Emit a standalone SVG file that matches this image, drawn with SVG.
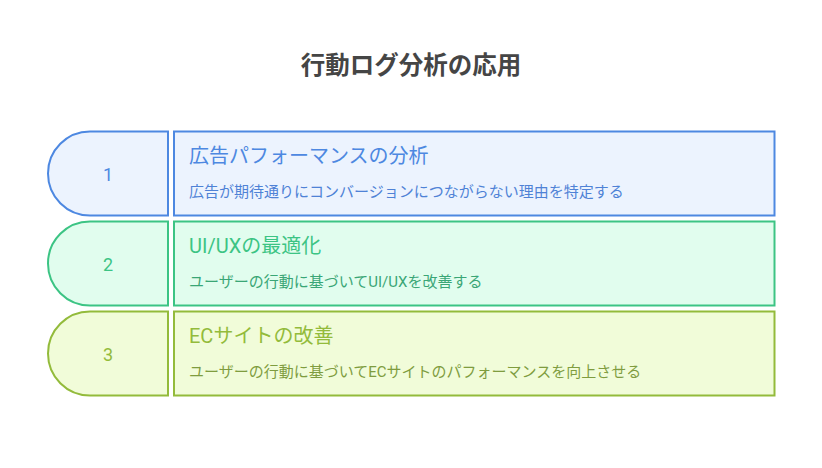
<svg xmlns="http://www.w3.org/2000/svg" width="822" height="468" viewBox="0 0 822 468">
<style>
text{font-family:Roboto,"Noto Sans CJK JP","Noto Sans",sans-serif}
.title{font-size:24.5px;font-weight:bold;fill:#454545;text-anchor:middle}
.num{font-size:18px;text-anchor:middle}
.head{font-size:20px}
.desc{font-size:15px}
.sh{stroke-width:2}
.b .sh{fill:#ecf3fe;stroke:#4d88e1}
.b text{fill:#4d88e1}
.b .desc{fill:#4f82d6}
.g .sh{fill:#e1fdee;stroke:#3cc484}
.g text{fill:#3cc484}
.g .desc{fill:#3aa676}
.y .sh{fill:#f1fcd9;stroke:#93bb3b}
.y text{fill:#93bb3b}
.y .desc{fill:#7f9c3f}
</style>
<rect width="822" height="468" fill="#ffffff"/>
<text class="title" x="411" y="74">行動ログ分析の応用</text>
<g id="connectors"></g>
<g id="node1" class="b">
<path class="sh" d="M168,131.5 H90 A42,42 0 0 0 48,173.5 A42,42 0 0 0 90,215.5 H168 Z"/>
<text class="num" x="108" y="181">1</text>
<rect class="sh" x="174" y="131.5" width="600.5" height="84"/>
<text class="head" x="189" y="163">広告パフォーマンスの分析</text>
<text class="desc" x="189" y="197">広告が期待通りにコンバージョンにつながらない理由を特定する</text>
</g>
<g id="node2" class="g">
<path class="sh" d="M168,221.5 H90 A42,42 0 0 0 48,263.5 A42,42 0 0 0 90,305.5 H168 Z"/>
<text class="num" x="108" y="271">2</text>
<rect class="sh" x="174" y="221.5" width="600.5" height="84"/>
<text class="head" x="189" y="253">UI/UXの最適化</text>
<text class="desc" x="189" y="287">ユーザーの行動に基づいてUI/UXを改善する</text>
</g>
<g id="node3" class="y">
<path class="sh" d="M168,311.5 H90 A42,42 0 0 0 48,353.5 A42,42 0 0 0 90,395.5 H168 Z"/>
<text class="num" x="108" y="361">3</text>
<rect class="sh" x="174" y="311.5" width="600.5" height="84"/>
<text class="head" x="189" y="343">ECサイトの改善</text>
<text class="desc" x="189" y="377">ユーザーの行動に基づいてECサイトのパフォーマンスを向上させる</text>
</g>
</svg>
